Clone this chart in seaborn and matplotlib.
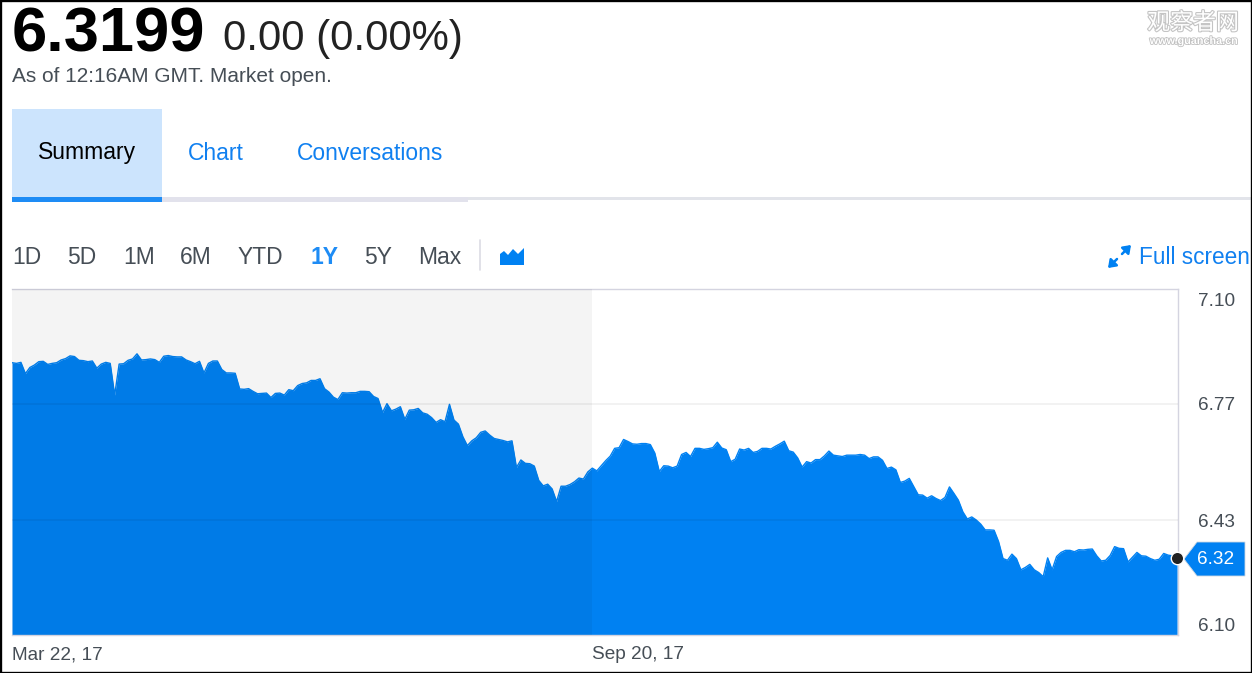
import matplotlib
matplotlib.use("Agg")
import matplotlib.patheffects as pe
import matplotlib.pyplot as plt
import numpy as np
import pandas as pd
import seaborn as sns
from matplotlib.patches import Polygon, Rectangle
from matplotlib.transforms import ScaledTranslation

# daily USD/CNY close
rates = [
    6.891, 6.889, 6.892, 6.859, 6.877, 6.884, 6.894, 6.895, 6.886, 6.889, 6.891, 6.899, 6.903,
    6.911, 6.909, 6.898, 6.897, 6.894, 6.896, 6.875, 6.887, 6.892, 6.889, 6.796, 6.887, 6.888,
    6.898, 6.902, 6.917, 6.899, 6.900, 6.902, 6.900, 6.892, 6.910, 6.912, 6.909, 6.908, 6.908,
    6.899, 6.894, 6.888, 6.895, 6.861, 6.889, 6.896, 6.896, 6.871, 6.861, 6.861, 6.860, 6.814,
    6.813, 6.815, 6.807, 6.800, 6.801, 6.802, 6.789, 6.801, 6.802, 6.796, 6.812, 6.809, 6.824,
    6.830, 6.832, 6.839, 6.839, 6.844, 6.815, 6.805, 6.790, 6.783, 6.803, 6.802, 6.803, 6.803,
    6.807, 6.807, 6.806, 6.792, 6.786, 6.745, 6.771, 6.750, 6.755, 6.762, 6.725, 6.752, 6.753,
    6.757, 6.744, 6.740, 6.730, 6.716, 6.724, 6.718, 6.769, 6.723, 6.711, 6.674, 6.648, 6.662,
    6.671, 6.687, 6.691, 6.679, 6.669, 6.666, 6.663, 6.659, 6.662, 6.584, 6.606, 6.596, 6.595,
    6.588, 6.546, 6.530, 6.535, 6.521, 6.484, 6.529, 6.529, 6.534, 6.542, 6.553, 6.550, 6.571,
    6.582, 6.574, 6.589, 6.604, 6.617, 6.640, 6.642, 6.666, 6.660, 6.653, 6.652, 6.654, 6.654,
    6.651, 6.626, 6.572, 6.589, 6.588, 6.583, 6.588, 6.622, 6.628, 6.616, 6.640, 6.640, 6.637,
    6.639, 6.642, 6.658, 6.641, 6.636, 6.601, 6.608, 6.638, 6.635, 6.640, 6.628, 6.631, 6.640,
    6.640, 6.638, 6.646, 6.653, 6.661, 6.633, 6.629, 6.612, 6.585, 6.601, 6.597, 6.607, 6.607,
    6.618, 6.632, 6.620, 6.618, 6.616, 6.620, 6.620, 6.620, 6.622, 6.620, 6.610, 6.615, 6.615,
    6.605, 6.581, 6.585, 6.577, 6.540, 6.544, 6.552, 6.528, 6.504, 6.503, 6.494, 6.501, 6.493,
    6.487, 6.496, 6.527, 6.508, 6.488, 6.454, 6.433, 6.439, 6.430, 6.418, 6.401, 6.401, 6.400,
    6.367, 6.317, 6.312, 6.330, 6.317, 6.284, 6.291, 6.300, 6.284, 6.276, 6.264, 6.319, 6.284,
    6.323, 6.335, 6.341, 6.341, 6.337, 6.343, 6.342, 6.344, 6.345, 6.325, 6.310, 6.312, 6.326,
    6.352, 6.347, 6.346, 6.307, 6.321, 6.335, 6.325, 6.324, 6.317, 6.312, 6.315, 6.332, 6.327,
    6.325, 6.320,
]
y_ticks = [6.10, 6.43, 6.77, 7.10]
y_tick_labels = ["6.10", "6.43", "6.77", "7.10"]
date_labels = ["Mar 22, 17", "Sep 20, 17"]
range_buttons = ["1D", "5D", "1M", "6M", "YTD", "1Y", "5Y", "Max"]
range_x = [12, 67, 123, 180, 238, 311, 364, 418]

BLUE = "#0081f2"
LINK = "#1080f0"
GREY_TEXT = "#464e56"
W, H = 1252, 673

sns.set_theme(style="white")
plt.rcParams["font.family"] = ["Liberation Sans", "Noto Sans CJK SC", "DejaVu Sans"]

df = pd.DataFrame({"day": np.arange(len(rates)), "rate": rates})
last = len(rates) - 1
mid = int(round(0.4995 * last))

fig = plt.figure(figsize=(W / 100, H / 100), dpi=100, facecolor="white")

# page furniture lives on a pixel-coordinate overlay
bg = fig.add_axes([0, 0, 1, 1], zorder=0)
bg.set_xlim(0, W)
bg.set_ylim(H, 0)
bg.axis("off")

bg.text(12, 51, "6.3199", fontsize=45.5, fontweight="bold", color="black", va="baseline")
bg.text(223, 50, "0.00 (0.00%)", fontsize=30.2, color="#222222", va="baseline")
bg.text(12, 77, "As of 12:16AM GMT. Market open.", fontsize=15, color=GREY_TEXT, va="center")

# tabs
bg.add_patch(Rectangle((12, 109), 150, 88, fc="#cce4fd", ec="none"))
bg.add_patch(Rectangle((12, 197), 150, 5, fc="#1e8cf5", ec="none"))
bg.add_patch(Rectangle((162, 197), 306, 5, fc="#e2e2ec", ec="none"))
bg.add_patch(Rectangle((468, 197), 784, 3, fc="#e2e4ea", ec="none"))
bg.text(38, 153, "Summary", fontsize=16.5, color="black", va="center")
bg.text(188, 153, "Chart", fontsize=16.5, color=LINK, va="center")
bg.text(297, 153, "Conversations", fontsize=16.5, color=LINK, va="center")

# range selector
for name, x in zip(range_buttons, range_x):
    active = name == "1Y"
    bg.text(x, 257, name, fontsize=16.5, va="center",
            color="#1e8cf5" if active else GREY_TEXT,
            fontweight="bold" if active else "normal")
bg.plot([480, 480], [240, 270], color="#dcdce4", lw=1.2)
bg.add_patch(Polygon([(500, 265), (500, 254), (504, 251), (508, 255), (513, 249),
                      (518, 254), (524, 248), (524, 265)], fc=BLUE, ec="none"))

# full screen control
for start, end in [((1122, 254), (1131, 245)), ((1117, 259), (1108, 268))]:
    bg.annotate("", xy=end, xytext=start, arrowprops=dict(
        arrowstyle="-|>,head_width=0.26,head_length=0.36", color=BLUE, lw=1.8,
        shrinkA=0, shrinkB=0))
bg.text(1139, 257, "Full screen", fontsize=16.3, color=LINK, va="center")

# watermark
halo = [pe.withStroke(linewidth=1.6, foreground="#c4c4c4")]
bg.text(1193, 23, "观察者网", fontsize=16.5, color="white", ha="center", va="center", path_effects=halo)
bg.text(1194, 41, "www.guancha.cn", fontsize=7.8, color="white", ha="center", va="center",
        fontweight="bold", path_effects=[pe.withStroke(linewidth=1.2, foreground="#c0c0c0")])

# price callout
bg.add_patch(Polygon([(1184, 559), (1197, 542), (1245, 542), (1245, 576), (1197, 576)],
                     fc=BLUE, ec="#cfd8e2", lw=0.6))
bg.text(1216, 559, "6.32", fontsize=13.7, color="white", ha="center", va="center")

# frame around the screenshot
fig.add_artist(Rectangle((0, 0), 1, 1, transform=fig.transFigure, fc="none", ec="black", lw=2.4))

ax = fig.add_axes([12 / W, 1 - 635 / H, (1178 - 12) / W, (635 - 289) / H], zorder=1)
ax.set_facecolor("none")
ax.fill_between(df["day"], df["rate"], 6.0, color=BLUE, lw=0, zorder=2)
sns.lineplot(data=df, x="day", y="rate", color=BLUE, lw=1.0, ax=ax, zorder=2)
ax.axvspan(0, mid, color="black", alpha=0.045, lw=0, zorder=3)
for level in y_ticks[1:3]:
    ax.axhline(level, color="black", alpha=0.05, lw=1.4, zorder=3)

ax.set_xlim(0, last + 0.2)
ax.set_ylim(6.093, 7.107)
ax.set_xlabel("")
ax.set_ylabel("")

ax.yaxis.tick_right()
ax.set_yticks(y_ticks)
ax.set_yticklabels(y_tick_labels)
ax.set_xticks([0, mid])
ax.set_xticklabels(date_labels, ha="left")
ax.tick_params(axis="y", length=0, pad=14.5, labelsize=13.7, labelcolor=GREY_TEXT)
ax.tick_params(axis="x", length=0, pad=8, labelsize=13.7, labelcolor=GREY_TEXT)

# the outer labels sit inside the plot height, nudged a little further in
tick_texts = ax.get_yticklabels()
tick_texts[0].set_verticalalignment("bottom")
tick_texts[-1].set_verticalalignment("top")
nudge = ScaledTranslation(0, -2 / 100, fig.dpi_scale_trans)
tick_texts[-1].set_transform(tick_texts[-1].get_transform() + nudge)
tick_texts[0].set_transform(tick_texts[0].get_transform() + nudge)

ax.spines["left"].set_visible(False)
for side in ["top", "right", "bottom"]:
    ax.spines[side].set_color("#d4d4e0")
    ax.spines[side].set_linewidth(1.0)

ax.scatter([last], [rates[-1]], s=80, color="#222222", edgecolor="white", linewidth=1,
           zorder=5, clip_on=False)

plt.savefig("out.png", dpi=100)
